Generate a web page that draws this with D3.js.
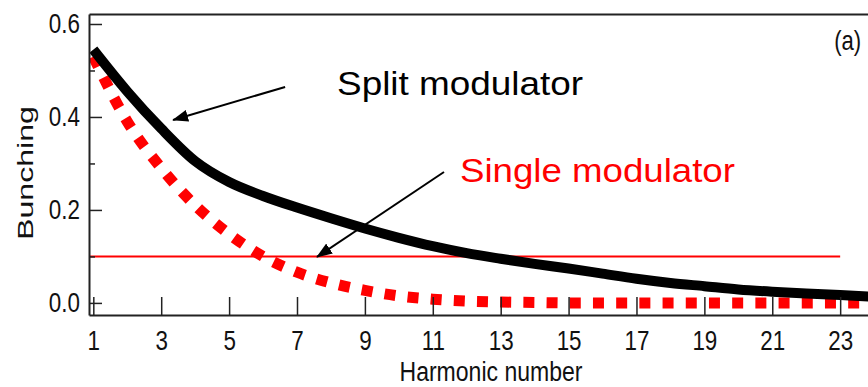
<html>
<head>
<script src="https://d3js.org/d3.v7.min.js"></script>
<style>
    body { margin: 0; background: #fff; }
    svg { display: block; }
    .axis path, .axis line { stroke: #222; }
    .axis text { font-family: "Liberation Sans Narrow", "Arial Narrow", "Liberation Sans", sans-serif; font-size: 28px; fill: #111; }
    .split-line { fill: none; stroke: #000; stroke-width: 10px; }
    .single-line { fill: none; stroke: #ff0000; stroke-width: 11px; stroke-dasharray: 11, 12.2; }
    .threshold { stroke: #ff0000; stroke-width: 2px; }
    .arrow { stroke: #000; stroke-width: 2px; }
</style>
</head>
<body>

<svg id='the-chart' width=868 height=387></svg>

<script>

    var harmonics = [1, 2, 3, 4, 5, 6, 7, 8, 9, 10, 11, 12, 13, 14, 15, 16, 17, 18, 19, 20, 21, 22, 23, 24];
    var splitBunching = [0.545, 0.455, 0.375, 0.305, 0.26, 0.23, 0.205, 0.182, 0.16, 0.14, 0.122, 0.107,
                         0.095, 0.084, 0.074, 0.063, 0.052, 0.043, 0.036, 0.029, 0.024, 0.02, 0.017, 0.013];
    var singleBunching = [0.53, 0.39, 0.29, 0.21, 0.148, 0.1, 0.066, 0.043, 0.027, 0.015, 0.008, 0.004,
                          0.002, 0.001, 0.0, 0.0, 0.0, 0.0, 0.0, 0.0, 0.0, 0.0, 0.0, 0.0];
    var threshold = 0.1;
    var thresholdEnd = 23;
    var xTicks = [1, 3, 5, 7, 9, 11, 13, 15, 17, 19, 21, 23];
    var yTicks = [0, 0.2, 0.4, 0.6];
    var yMinorTicks = [0.1, 0.3, 0.5];

    // annotation labels and arrows, in data units
    var labels = [
        { text: 'Split modulator', h: 8.18, b: 0.447, color: '#000', len: 246 },
        { text: 'Single modulator', h: 11.8, b: 0.26, color: '#ff0000', len: 275 }
    ];
    var arrows = [
        { h0: 6.65, b0: 0.4645, h1: 3.35, b1: 0.3935 },
        { h0: 11.33, b0: 0.2817, h1: 7.59, b1: 0.099 }
    ];

    var svg = d3.select('#the-chart');
    var plotLeft = 89, plotRight = 868, plotTop = 14, plotBottom = 315;

    var x = d3.scaleLinear()
        .domain([0.873, 23.82])
        .range([plotLeft, plotRight]);

    var y = d3.scaleLinear()
        .domain([-0.026, 0.6215])
        .range([plotBottom, plotTop]);

    var defs = svg.append('defs');
    defs.append('clipPath')
        .attr('id', 'plot-clip')
        .append('rect')
        .attr('x', plotLeft).attr('y', plotTop)
        .attr('width', plotRight - plotLeft).attr('height', plotBottom - plotTop);

    var marker = defs.append('marker')
        .attr('id', 'head')
        .attr('markerUnits', 'userSpaceOnUse')
        .attr('viewBox', '0 0 16 12')
        .attr('markerWidth', 16).attr('markerHeight', 12)
        .attr('refX', 15).attr('refY', 6)
        .attr('orient', 'auto');
    marker.append('path').attr('d', 'M0,0 L16,6 L0,12 Z').attr('fill', '#000');

    // threshold line
    svg.append('line')
        .attr('class', 'threshold')
        .attr('x1', plotLeft).attr('x2', x(thresholdEnd))
        .attr('y1', y(threshold)).attr('y2', y(threshold));

    var line = d3.line()
        .x(function(d) { return x(d[0]); })
        .y(function(d) { return y(d[1]); })
        .curve(d3.curveMonotoneX);

    var plot = svg.append('g').attr('clip-path', 'url(#plot-clip)');

    plot.append('path')
        .attr('class', 'single-line')
        .attr('d', line(d3.zip(harmonics, singleBunching)));

    plot.append('path')
        .attr('class', 'split-line')
        .attr('d', line(d3.zip(harmonics, splitBunching)));

    // axes
    svg.append('g')
        .attr('class', 'axis')
        .attr('transform', 'translate(0,' + plotBottom + ')')
        .call(d3.axisBottom(x).tickValues(xTicks).tickSizeInner(-18).tickSizeOuter(0).tickPadding(15.5).tickFormat(d3.format('d')));

    svg.append('g')
        .attr('class', 'axis')
        .attr('transform', 'translate(0,' + plotTop + ')')
        .call(d3.axisTop(x).tickValues([]).tickSizeOuter(0));

    svg.append('g')
        .attr('class', 'axis')
        .attr('transform', 'translate(' + plotLeft + ',0)')
        .call(d3.axisLeft(y).tickValues(yTicks).tickSizeInner(-13).tickSizeOuter(0).tickPadding(9).tickFormat(d3.format('.1f')));

    svg.append('g')
        .attr('class', 'axis minor')
        .attr('transform', 'translate(' + plotLeft + ',0)')
        .call(d3.axisLeft(y).tickValues(yMinorTicks).tickSizeInner(-6).tickSizeOuter(0).tickFormat(''))
        .select('.domain').remove();

    svg.selectAll('.axis .domain').attr('stroke-width', 2);
    svg.selectAll('.axis .tick line').attr('stroke-width', 1.5);

    // condensed look for tick labels
    svg.selectAll('.axis .tick text').each(function() {
        var w = this.getComputedTextLength();
        d3.select(this).attr('textLength', w * 0.8).attr('lengthAdjust', 'spacingAndGlyphs');
    });

    // axis titles
    svg.append('text')
        .attr('x', 491).attr('y', 381.3)
        .attr('text-anchor', 'middle')
        .attr('textLength', 183).attr('lengthAdjust', 'spacingAndGlyphs')
        .style('font-family', '"Liberation Sans", Arial, sans-serif')
        .style('font-size', '27px')
        .attr('fill', '#111')
        .text('Harmonic number');

    svg.append('text')
        .attr('transform', 'translate(33,173) rotate(-90)')
        .attr('text-anchor', 'middle')
        .attr('textLength', 134).attr('lengthAdjust', 'spacingAndGlyphs')
        .style('font-family', '"Liberation Sans", Arial, sans-serif')
        .style('font-size', '22px')
        .attr('fill', '#111')
        .text('Bunching');

    svg.append('text')
        .attr('x', x(23.22)).attr('y', 50)
        .attr('text-anchor', 'middle')
        .attr('textLength', 27).attr('lengthAdjust', 'spacingAndGlyphs')
        .style('font-family', '"Liberation Sans", Arial, sans-serif')
        .style('font-size', '28px')
        .attr('fill', '#111')
        .text('(a)');

    // annotations
    svg.selectAll('.label')
        .data(labels)
        .enter().append('text')
        .attr('class', 'label')
        .attr('x', function(d) { return x(d.h); })
        .attr('y', function(d) { return y(d.b); })
        .attr('textLength', function(d) { return d.len; })
        .attr('lengthAdjust', 'spacingAndGlyphs')
        .style('font-family', '"Liberation Sans", Arial, sans-serif')
        .style('font-size', '34px')
        .attr('fill', function(d) { return d.color; })
        .text(function(d) { return d.text; });

    svg.selectAll('.arrow')
        .data(arrows)
        .enter().append('line')
        .attr('class', 'arrow')
        .attr('x1', function(d) { return x(d.h0); })
        .attr('y1', function(d) { return y(d.b0); })
        .attr('x2', function(d) { return x(d.h1); })
        .attr('y2', function(d) { return y(d.b1); })
        .attr('marker-end', 'url(#head)');

</script>

</body>
</html>
